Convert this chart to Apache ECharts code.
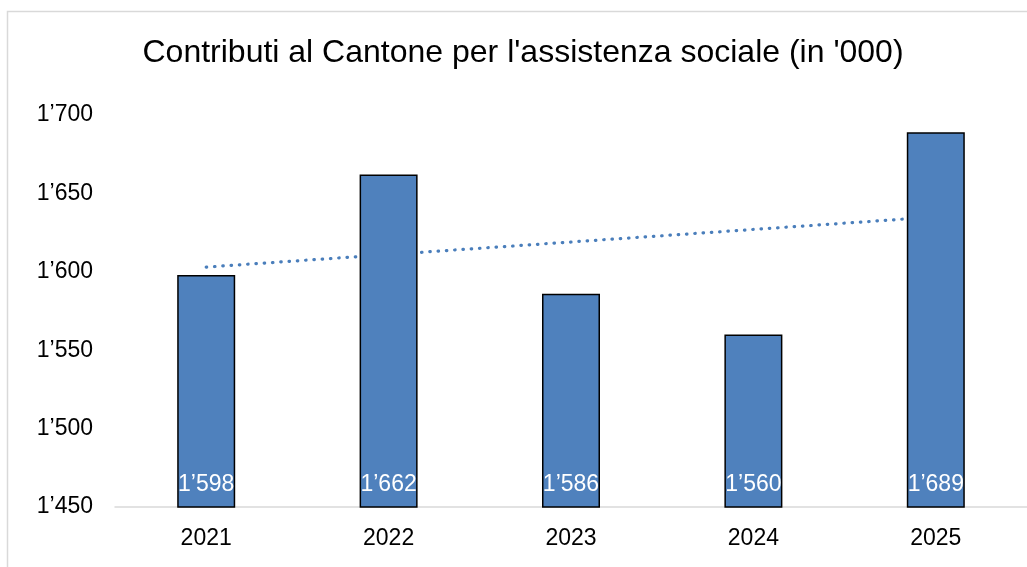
<!DOCTYPE html>
<html>
<head>
<meta charset="utf-8">
<script src="https://cdn.jsdelivr.net/npm/echarts@6/dist/echarts.min.js"></script>
<style>
    html, body { margin: 0; padding: 0; background: #fff; }
    #main { width: 1027px; height: 567px; }
</style>
</head>
<body>
<div id="main"></div>
<script>
// dati
const anni = ['2021', '2022', '2023', '2024', '2025']
const contributi = [1598, 1662, 1586, 1560, 1689]
// linea di tendenza
const tendenza = [1603, 1611, 1619, 1627, 1635]
const asseMin = 1450
const asseMax = 1700
const asseIntervallo = 50

// 1598 -> 1’598
function formatta(v) {
    let migliaia = Math.floor(v / 1000)
    let resto = String(v % 1000).padStart(3, '0')
    return migliaia + '’' + resto
}

const font = 'Liberation Sans, Arial, sans-serif'

let myChart = echarts.init(document.getElementById('main'))

let option = {
    animation: false,
    backgroundColor: '#fff',
    textStyle: { fontFamily: font },
    title: {
        text: "Contributi al Cantone per l'assistenza sociale (in '000)",
        left: 518,
        textAlign: 'center',
        top: 32,
        textStyle: { fontSize: 32, fontWeight: 'normal', color: '#000', fontFamily: font }
    },
    graphic: [{
        type: 'rect',
        shape: { x: 7.5, y: 11.5, width: 1100, height: 700 },
        style: { fill: 'none', stroke: '#d9d9d9', lineWidth: 1.5 },
        silent: true
    }],
    grid: { left: 115, right: 0, top: 115, bottom: 60 },
    xAxis: {
        type: 'category',
        data: anni,
        axisLine: { lineStyle: { color: '#d9d9d9', width: 1.5 } },
        axisTick: { show: false },
        axisLabel: { color: '#000', fontSize: 23, margin: 20, fontFamily: font }
    },
    yAxis: {
        type: 'value',
        min: asseMin,
        max: asseMax,
        interval: asseIntervallo,
        axisLine: { show: false },
        axisTick: { show: false },
        splitLine: { show: false },
        axisLabel: {
            color: '#000', fontSize: 23, margin: 22, fontFamily: font,
            formatter: v => formatta(v)
        }
    },
    series: [
        {
            name: 'Tendenza',
            type: 'line',
            data: tendenza,
            z: 1,
            symbol: 'none',
            lineStyle: { color: '#4a7ebb', width: 3.2, type: [0.5, 7.8], cap: 'round' }
        },
        {
            name: 'Contributi',
            type: 'bar',
            data: contributi,
            z: 2,
            barWidth: 58,
            itemStyle: { color: '#4F81BD', borderColor: '#000', borderWidth: 1.5 },
            label: {
                show: true,
                position: 'insideBottom',
                distance: 12,
                color: '#fff',
                fontSize: 23,
                fontFamily: font,
                formatter: p => formatta(p.value)
            }
        }
    ]
}

myChart.setOption(option)
</script>
</body>
</html>
